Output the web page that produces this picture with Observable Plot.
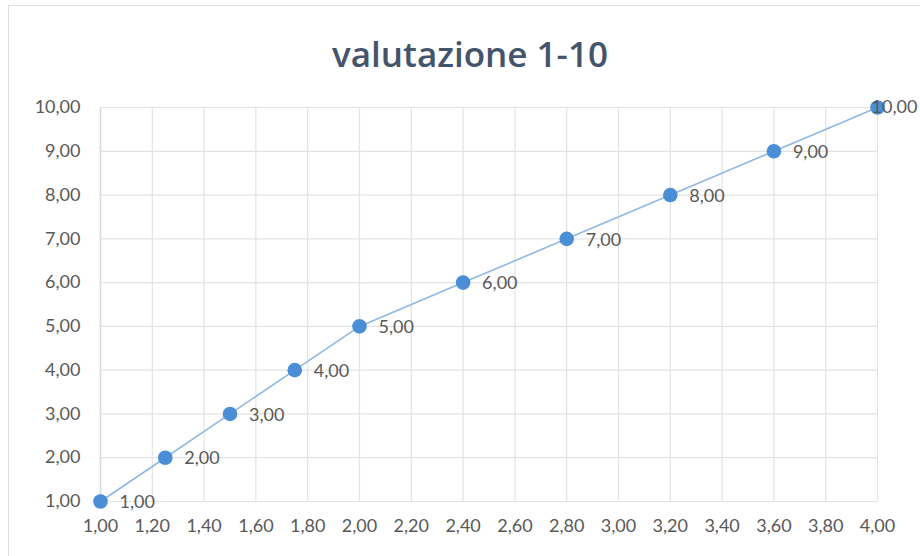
<!DOCTYPE html>
<html>
<head>
<meta charset="utf-8">
<script src="https://cdn.jsdelivr.net/npm/d3@7"></script>
<script src="https://cdn.jsdelivr.net/npm/@observablehq/plot@0.6"></script>
<style>
  body { margin: 0; background: #fff; }
  #wrap { position: relative; width: 920px; height: 556px; overflow: hidden; }
  #border { position: absolute; left: 8px; top: 5px; width: 920px; height: 560px; border: 1.5px solid #d9dee6; box-sizing: border-box; }
  #chart { position: absolute; left: 0; top: 0; }
</style>
</head>
<body>
<div id="wrap"><div id="border"></div><div id="chart"></div></div>
<script>
const title = "valutazione 1-10";
const xValues = [1.00, 1.25, 1.50, 1.75, 2.00, 2.40, 2.80, 3.20, 3.60, 4.00];
const yValues = [1, 2, 3, 4, 5, 6, 7, 8, 9, 10];
const xTicks = [1.0, 1.2, 1.4, 1.6, 1.8, 2.0, 2.2, 2.4, 2.6, 2.8, 3.0, 3.2, 3.4, 3.6, 3.8, 4.0];
const yTicks = [1, 2, 3, 4, 5, 6, 7, 8, 9, 10];

const data = xValues.map((x, i) => ({x, y: yValues[i]}));
const fmt = v => d3.format(".2f")(v).replace(".", ",");
const last = data.length - 1;

const chart = Plot.plot({
  width: 920,
  height: 556,
  marginLeft: 100,
  marginRight: 43,
  marginTop: 107,
  marginBottom: 55,
  style: {fontFamily: "Lato, sans-serif", fontSize: "18px", color: "#595959", background: "transparent"},
  x: {domain: [1, 4], label: null},
  y: {domain: [1, 10], label: null},
  marks: [
    Plot.gridX(xTicks, {stroke: "#e3e3e3", strokeOpacity: 1, strokeWidth: 1.2}),
    Plot.gridY(yTicks, {stroke: "#e3e3e3", strokeOpacity: 1, strokeWidth: 1.2}),
    Plot.ruleX([1], {stroke: "#d3dae4", strokeWidth: 1.5}),
    Plot.axisX({ticks: xTicks, tickFormat: fmt, tickSize: 0, tickPadding: 18, fill: "#595959", fontSize: 18}),
    Plot.axisY({ticks: yTicks, tickFormat: fmt, tickSize: 0, tickPadding: 20, fill: "#595959", fontSize: 18}),
    Plot.line(data, {x: "x", y: "y", stroke: "#8fb8e3", strokeWidth: 1.6}),
    Plot.dot(data, {x: "x", y: "y", r: 7.3, fill: "#4a8fd6", stroke: "none"}),
    Plot.text(data.slice(0, last), {x: "x", y: "y", text: d => fmt(d.y), dx: 19, dy: 1, textAnchor: "start", fill: "#595959", fontSize: 18}),
    Plot.text(data.slice(last), {x: "x", y: "y", text: d => fmt(d.y), dx: -6, textAnchor: "start", fill: "#595959", fontSize: 18}),
    Plot.text([title], {frameAnchor: "top", dy: -65, dx: -19, fontSize: 35, fontWeight: 600, fontFamily: "Open Sans, sans-serif", fill: "#44546a", textAnchor: "middle"})
  ]
});
document.getElementById("chart").appendChild(chart);
</script>
</body>
</html>
